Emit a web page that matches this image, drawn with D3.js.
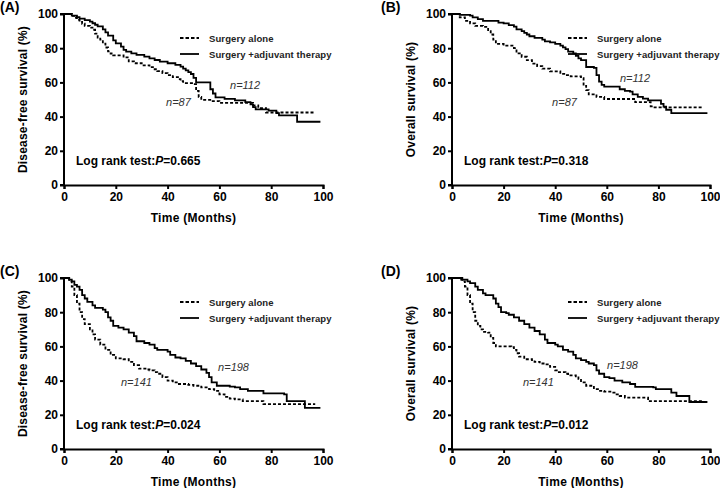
<!DOCTYPE html>
<html><head><meta charset="utf-8">
<script src="https://cdn.jsdelivr.net/npm/d3@7"></script>
<style>
body{margin:0;background:#fff;}
svg{display:block;font-family:Arial,"Liberation Sans",sans-serif;}
</style></head>
<body><svg id="c" width="720" height="488"></svg>
<script>
// ---------- DATA (time in months, survival %) ----------
const xTicks = [0, 20, 40, 60, 80, 100];
const yTicks = [0, 20, 40, 60, 80, 100];
const legendLabels = ["Surgery alone", "Surgery +adjuvant therapy"];

const A_adjuvant = [[0,100],[3,99.1],[5,98.2],[6,97.3],[8,96.4],[10,95.5],[11,94.6],[12,93.7],[13,92.8],[15,91.0],[16,89.2],[17,87.4],[19,84.6],[20,82.8],[22,80.9],[23,79],[24,78],[26,77],[28,76.1],[31,75.1],[33,74.1],[35,73.1],[37,72.2],[40,71.2],[43,70.2],[45,69.2],[46,68.1],[47,67],[48,66],[49,64.9],[50,62.7],[51,60],[56.5,56],[57.5,53.5],[58.5,51.3],[62,50.4],[66,49.5],[70,48.5],[72,47.2],[73,45.5],[74,44.2],[79,43.5],[82,42],[83,40.7],[90,37],[99,37]];
const A_alone = [[0,100],[3,98.9],[4,97.7],[5,96.6],[6,95.4],[7,94.3],[8,93.1],[10,92],[11,90.8],[12,88.5],[13,86.2],[14,85],[15,82.7],[16,80.4],[17,78.1],[18,76.9],[19,75.8],[23,74.6],[25,72.3],[27,71.2],[30,70],[33,68.9],[35,67.7],[36,66.6],[38,65.4],[40,64.3],[42,63.1],[44,61.9],[45,60.7],[46,59.6],[50,59],[51,55],[52,51.5],[53,49.8],[57,49],[60,48],[73,46.5],[75,45],[78,42.4],[97,42.4]];

const B_adjuvant = [[0,100],[3,99.5],[7,99],[8,98],[10,97],[12,96],[18,95],[20,94.5],[22,93.5],[24,92.6],[25,91],[27,90],[28,89],[29,88],[30,87],[32,86],[35,85],[36,84],[38,83.4],[40,82.5],[42,81.5],[43,80.5],[44,79.5],[45,78],[47,77],[48,75.5],[49,74],[50,73],[52,69],[55,68.5],[56,64.3],[57,60.4],[58,58.5],[59,57.5],[65,56],[67,55],[69,54.6],[70,53],[72,51.5],[74,50.5],[76,49.5],[80,49.5],[81,47.5],[82,45.8],[83,44],[85,42],[99,42]];
const B_alone = [[0,100],[3,98],[5,96],[7,94.5],[9,93],[12,92.5],[14,90],[15,88],[16,85],[17,82.5],[20,81.5],[24,80],[25,77],[27,75],[29,73],[31,71],[33,69.5],[35,68],[38,66.5],[42,65],[44,64.3],[46,63.5],[50,62.5],[51,58],[52,55.5],[53,53],[56,51.5],[59,50.3],[71,48.5],[77,46],[78,45.4],[97,45.4]];

const C_adjuvant = [[0,100],[2,99],[3,98],[4,96],[5,95],[6,93],[7,90],[8,88],[9,86],[11,84],[12,82.5],[15,81.5],[16,80],[17,77],[18,75],[19,72],[21,71],[23,70],[25,68],[27,66],[28,63],[31,62],[33,61],[35,59],[36,58],[40,57],[41,55],[43,53.5],[45,53],[47,51.5],[49,50],[51,48.5],[53,46.5],[55,44.5],[56,42],[57,39],[59,37],[64,36.5],[66,36],[68,35],[71,34],[77,32.5],[85,32],[86,28],[93,24],[99,24]];
const C_alone = [[0,100],[2,98],[3,95],[4,90],[5,85],[6,80],[7,76],[8,73],[10,70],[11,67],[12,64],[14,61],[16,58],[18,55],[20,53],[23,52.5],[25,51],[27,49],[29,47],[32,46.5],[33,46],[35,45],[36,44],[38,42],[40,40],[42,39],[44,38],[48,37.5],[50,37],[53,36],[56,35],[58,34],[60,32],[62,30.5],[64,29.5],[66,29],[69,28],[77,26.3],[97,26.3]];

const D_adjuvant = [[0,100],[4,99],[6,98],[7,97],[9,95],[10,93],[12,91],[13,90],[16,88],[17,85],[18,83],[19,80],[21,79.5],[22,78.5],[24,77],[26,75],[28,73],[30,71],[32,69],[34,67],[36,64],[37,62],[40,61],[41,60],[43,58],[45,57],[47,55],[48,53],[50,52],[52,51],[53,50],[55,49],[56,46],[57,44],[59,42],[61,41.5],[63,40],[66,39],[69,38],[71,36.3],[78,36],[79,35],[85,33],[87,31],[92,27.5],[99,27.5]];
const D_alone = [[0,100],[3,99],[4,98],[5,95],[6,90],[7,85],[8,80],[9,75],[10,72],[11,70],[12,68.5],[14,68],[15,65],[16,62],[17,60],[23,59.5],[24,58],[25,56],[26,54],[28,52.5],[31,52],[32,51],[34,50],[36,49.5],[38,48],[40,46],[41,45],[44,44],[45,43],[48,42.5],[49,41],[50,39],[52,37],[55,35],[57,34],[59,33.5],[62,33],[63,32],[65,31],[67,30],[75,30],[76,28],[97,28]];

const panels = [
  {tag:"(A)", tagX:0, left:64, right:323, top:14, bottom:185, ylab:"Disease-free survival (%)", alone:A_alone, adj:A_adjuvant, p:"0.665", nAlone:"n=87", nAdj:"n=112", nAlonePos:[39.4,46.2], nAdjPos:[64.1,56.1]},
  {tag:"(B)", tagX:381, left:452, right:710, top:14, bottom:185, ylab:"Overall survival (%)", alone:B_alone, adj:B_adjuvant, p:"0.318", nAlone:"n=87", nAdj:"n=112", nAlonePos:[38.8,46.2], nAdjPos:[65.1,60.2]},
  {tag:"(C)", tagX:0, left:64, right:323, top:278, bottom:449, ylab:"Disease-free survival (%)", alone:C_alone, adj:C_adjuvant, p:"0.024", nAlone:"n=141", nAdj:"n=198", nAlonePos:[22,36.8], nAdjPos:[59.5,45.6]},
  {tag:"(D)", tagX:381, left:452, right:710, top:278, bottom:449, ylab:"Overall survival (%)", alone:D_alone, adj:D_adjuvant, p:"0.012", nAlone:"n=141", nAdj:"n=198", nAlonePos:[27.5,36.8], nAdjPos:[60.1,46.8]}
];

const svg = d3.select("#c");

panels.forEach(P => {
  const x = d3.scaleLinear().domain([0,100]).range([P.left, P.right]);
  const y = d3.scaleLinear().domain([0,100]).range([P.bottom, P.top]);
  const g = svg.append("g");

  // panel tag
  g.append("text").attr("x", P.tagX).attr("y", P.top - 2)
    .attr("font-size", 14).attr("font-weight", "bold").text(P.tag);

  // axes
  const ya = g.append("g").attr("transform", `translate(${P.left},0)`)
    .call(d3.axisLeft(y).tickValues(yTicks).tickSize(4).tickPadding(2).tickFormat(d3.format("d")));
  const xa = g.append("g").attr("transform", `translate(0,${P.bottom})`)
    .call(d3.axisBottom(x).tickValues(xTicks).tickSize(4).tickPadding(3).tickFormat(d3.format("d")));
  [ya, xa].forEach(a => {
    a.select(".domain").attr("stroke", "#000").attr("stroke-width", 2);
    a.selectAll(".tick line").attr("stroke", "#000").attr("stroke-width", 2);
    a.selectAll(".tick text").attr("font-size", 12).attr("font-weight", "bold")
      .attr("font-family", "Arial,'Liberation Sans',sans-serif").attr("fill", "#000");
  });
  ya.select(".domain").attr("d", `M-4,${P.bottom}H0V${P.top}H-4`);

  // axis titles
  g.append("text").attr("x", (P.left + P.right)/2).attr("y", P.bottom + 37)
    .attr("text-anchor", "middle").attr("font-size", 12).attr("font-weight", "bold")
    .attr("letter-spacing", 0.3).text("Time (Months)");
  g.append("text").attr("transform", `translate(${P.left - 37},${(P.top+P.bottom)/2}) rotate(-90)`)
    .attr("text-anchor", "middle").attr("font-size", 12).attr("font-weight", "bold")
    .attr("letter-spacing", 0.2).text(P.ylab);

  // curves
  const line = d3.line().x(d => x(d[0])).y(d => y(d[1])).curve(d3.curveStepAfter);
  g.append("path").datum(P.alone).attr("d", line).attr("fill", "none")
    .attr("stroke", "#000").attr("stroke-width", 1.8).attr("stroke-dasharray", "3,2");
  g.append("path").datum(P.adj).attr("d", line).attr("fill", "none")
    .attr("stroke", "#000").attr("stroke-width", 1.8);

  // legend
  const lx = P.left + 116, ly = P.top + 24;
  g.append("line").attr("x1", lx).attr("x2", lx + 19).attr("y1", ly).attr("y2", ly)
    .attr("stroke", "#000").attr("stroke-width", 1.8).attr("stroke-dasharray", "3.5,2");
  g.append("line").attr("x1", lx).attr("x2", lx + 19).attr("y1", ly + 16).attr("y2", ly + 16)
    .attr("stroke", "#000").attr("stroke-width", 1.8);
  legendLabels.forEach((t, i) => {
    g.append("text").attr("x", lx + 29).attr("y", ly + 4 + i*16)
      .attr("font-size", 9.5).attr("font-weight", "bold").attr("fill", "#222")
      .attr("letter-spacing", 0.1).text(t);
  });

  // log rank
  const lr = g.append("text").attr("x", P.left + 12).attr("y", P.top + 151)
    .attr("font-size", 12).attr("font-weight", "bold");
  lr.append("tspan").text("Log rank test:");
  lr.append("tspan").attr("font-style", "italic").text("P");
  lr.append("tspan").text("=" + P.p);

  // n labels
  g.append("text").attr("x", x(P.nAdjPos[0])).attr("y", y(P.nAdjPos[1]))
    .attr("font-size", 11).attr("font-style", "italic").attr("fill", "#333").text(P.nAdj);
  g.append("text").attr("x", x(P.nAlonePos[0])).attr("y", y(P.nAlonePos[1]))
    .attr("font-size", 11).attr("font-style", "italic").attr("fill", "#333").text(P.nAlone);
});
</script></body></html>
